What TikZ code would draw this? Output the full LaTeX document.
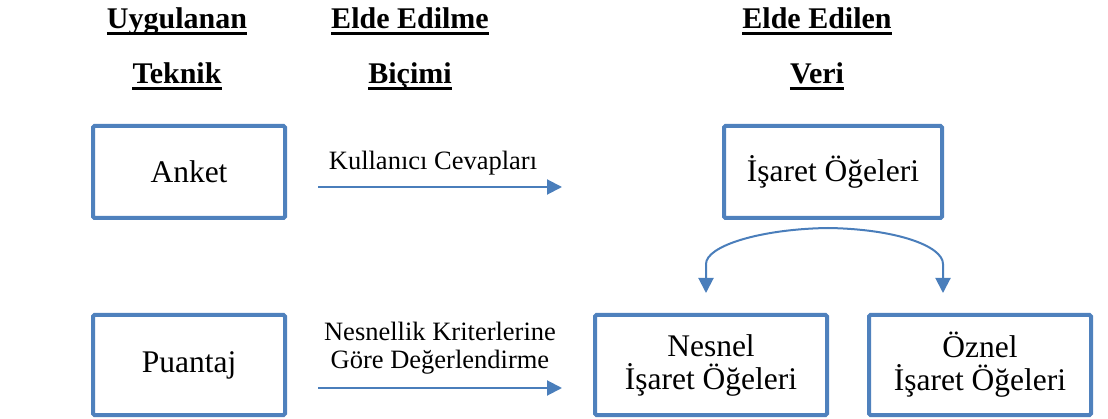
\documentclass[tikz,border=0pt]{standalone}
\usepackage{fontspec}
\setmainfont{Liberation Serif}
\usetikzlibrary{arrows.meta}
\definecolor{boxblue}{RGB}{79,129,189}
\definecolor{arrowblue}{RGB}{74,126,187}
\begin{document}
\begin{tikzpicture}[x=1pt,y=-1pt,
  hdr/.style={inner sep=0pt,anchor=base,font=\fontsize{30}{33}\selectfont\bfseries},
  ul/.style={line width=3pt},
  box/.style={draw=boxblue,line width=4pt,rounded corners=1.5pt,align=center,
    font=\fontsize{31.5}{33}\selectfont,inner sep=0pt},
  lbl/.style={inner sep=0pt,anchor=base,align=center,font=\fontsize{26.5}{27.5}\selectfont},
  arr/.style={draw=arrowblue,line width=2pt,-{Triangle[length=15pt,width=15pt]}}]
\useasboundingbox (0,0) rectangle (1108,419);

% headers
\node[hdr] (h1) at (177,29) {Uygulanan};
\node[hdr] (h2) at (177,84) {Teknik};
\node[hdr] (h3) at (410,29) {Elde Edilme};
\node[hdr] (h4) at (410,84) {Biçimi};
\node[hdr] (h5) at (817,29) {Elde Edilen};
\node[hdr] (h6) at (817,84) {Veri};
\foreach \h in {h1,h2,h3,h4,h5,h6}{
  \draw[ul] ([yshift=-4.5pt]\h.base west) -- ([yshift=-4.5pt]\h.base east);
}

% boxes
\node[box,minimum width=192pt,minimum height=92pt] (anket) at (189,172) {Anket};
\node[box,minimum width=218pt,minimum height=92pt] (isaret) at (833,172) {İşaret Öğeleri};
\node[box,minimum width=192pt,minimum height=100pt] (puantaj) at (189,365) {Puantaj};
\node[box,minimum width=232pt,minimum height=100pt] (nesnel) at (711,365) {Nesnel\\İşaret Öğeleri};
\node[box,minimum width=222pt,minimum height=100pt] (oznel) at (980,365) {Öznel\\İşaret Öğeleri};

% arrow 1
\coordinate (a1s) at (318,187);
\coordinate (a1e) at (562,187);
\draw[arr] (a1s) -- (a1e);
\node[lbl] (l1) at (433,170) {Kullanıcı Cevapları};

% arrow 2
\coordinate (a2s) at (318,388);
\coordinate (a2e) at (562,388);
\draw[arr] (a2s) -- (a2e);
\node[lbl] (l2) at (440,368) {Nesnellik Kriterlerine\\Göre Değerlendirme};

% split curve
\coordinate (ctop) at (828,228);
\coordinate (cl) at (706,293);
\coordinate (cr) at (943,293);
\draw[arr] (ctop) .. controls (760,229) and (706,246) .. (706,264) -- (cl);
\draw[arr] (ctop) .. controls (896,229) and (943,246) .. (943,264) -- (cr);
\end{tikzpicture}
\end{document}
